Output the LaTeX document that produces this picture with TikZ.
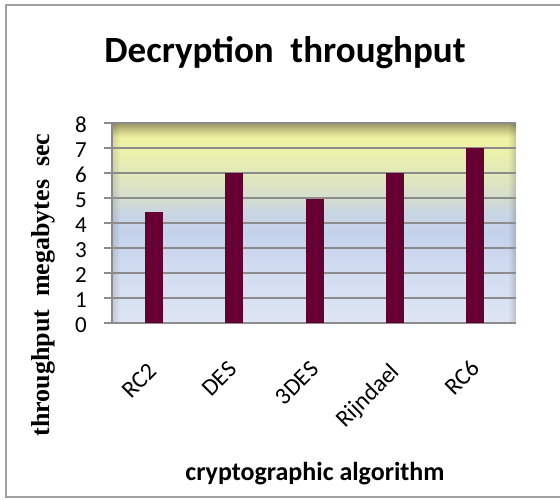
\documentclass[tikz,border=0pt]{standalone}
\usepackage{fontspec}
\setmainfont{Carlito}
\newfontfamily\serifbold{Liberation Serif}[BoldFont={* Bold}]
\usetikzlibrary{fadings}

% colours of the chart
\definecolor{barred}{HTML}{660033}
\definecolor{gridgray}{HTML}{8C8C8C}
\definecolor{framegray}{HTML}{A0A0A0}
\definecolor{bg00}{HTML}{DEE6F3}
\definecolor{bg25}{HTML}{D3DDF1}
\definecolor{bg45}{HTML}{C5D2EC}
\definecolor{bg55}{HTML}{C9D5E4}
\definecolor{bg62}{HTML}{D3DDD0}
\definecolor{bg72}{HTML}{DFE6BE}
\definecolor{bg82}{HTML}{E9EEB0}
\definecolor{bg90}{HTML}{EEF3A6}
\definecolor{bg93}{HTML}{ECF0A0}
\definecolor{bg96}{HTML}{CFCD88}
\definecolor{bgtop}{HTML}{9A9565}

% background of the plotting area: yellow at the top fading to pale blue
% (TikZ maps the middle half, 25bp..75bp, of the shading onto the path)
\pgfdeclareverticalshading{plotbg}{100bp}{%
  color(0bp)=(bg00);
  color(25bp)=(bg00);
  color(37.5bp)=(bg25);
  color(47.5bp)=(bg45);
  color(52.5bp)=(bg55);
  color(56bp)=(bg62);
  color(61bp)=(bg72);
  color(66bp)=(bg82);
  color(70bp)=(bg90);
  color(71.5bp)=(bg93);
  color(73bp)=(bg96);
  color(75bp)=(bgtop);
  color(100bp)=(bgtop)}

\tikzset{
  bar/.style={fill=barred, draw=none},
  gridline/.style={draw=gridgray, line width=1.8pt},
  ticklabel/.style={font=\fontsize{23}{23}\selectfont, anchor=east, inner sep=0pt},
  catlabel/.style={font=\fontsize{24}{24}\selectfont, anchor=base east, rotate=45, inner sep=0pt},
}

\begin{document}
\begin{tikzpicture}[x=1pt, y=-1pt]
  \useasboundingbox (0,0) rectangle (560,499);
  \fill[white] (0,0) rectangle (560,499);
  % outer chart frame (open on the right)
  \draw[framegray, line width=1.5pt] (562,5) -- (6,5) -- (6,497) -- (562,497);

  % plotting area with soft darker side edges
  \shade[shading=plotbg] (112,123) rectangle (516,323);
  \fill[black, opacity=0.12, path fading=east] (112,123) rectangle (120,323);
  \fill[black, opacity=0.16, path fading=west] (508,123) rectangle (516,323);

  % grid lines with their ticks, values 0..8
  \foreach \v in {0,...,8} {
    \draw[gridline] (104,{323-25*\v}) -- (516,{323-25*\v});
    \node[ticklabel] (t\v) at (87,{325-25*\v}) {\v};
  }
  \draw[gridline] (112,123) -- (112,323);

  % bars
  \foreach \c/\v in {154/4.45, 234/6, 315/4.95, 395/6, 475/7.02} {
    \fill[bar] ({\c-9},323) rectangle ({\c+9},{323-25*\v});
  }

  % category labels
  \node[catlabel] (l1) at (158,373) {RC2};
  \node[catlabel] (l2) at (238,371) {DES};
  \node[catlabel] (l3) at (320,371) {3DES};
  \node[catlabel] (l4) at (401,373) {Rijndael};
  \node[catlabel] (l5) at (481,370) {RC6};

  % titles
  \node[font=\fontsize{37}{37}\selectfont\bfseries, anchor=base] (title) at (285,62) {Decryption\ \ throughput};
  \node[font=\fontsize{26}{26}\selectfont\bfseries, anchor=base] (xlab) at (315,480) {cryptographic algorithm};
  \node[font=\serifbold\fontsize{26}{26}\selectfont\bfseries, rotate=90, anchor=base, inner sep=0pt] (ylab) at (49,285) {throughput\ \ megabytes\ \ sec};
\end{tikzpicture}
\end{document}
